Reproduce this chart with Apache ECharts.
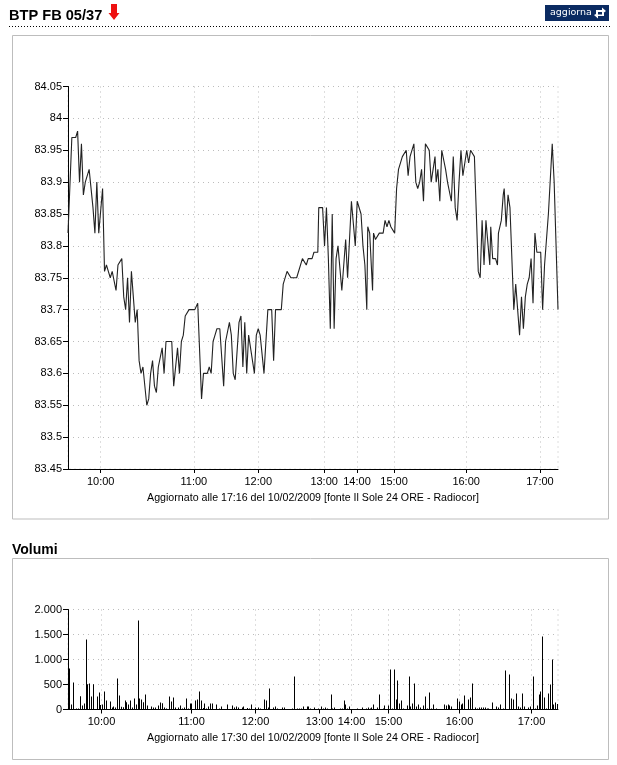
<!DOCTYPE html>
<html><head><meta charset="utf-8">
<script src="https://cdn.jsdelivr.net/npm/echarts@6/dist/echarts.min.js"></script>
<style>html,body{margin:0;padding:0;background:#fff}#c{width:617px;height:765px}</style>
</head><body><div id="c"></div>
<script>
const priceSlots = [0,2,4,5,6,7,8,9,10,11,12,13,14,15,16,18,19,20,21,22,23,24,25,26,27,28,29,30,31,32,33,34,35,36,37,38,39,40,41,42,43,44,45,46,47,48,49,50,51,54,55,57,58,59,60,61,62,63,66,
67.5,69.5,70.5,72.5,73.5,74.5,75.5,76.5,77.5,79,81,82,83,84,85,86,87,89,90,91,92,93,94,95,97,98,99,100,101,102,104,106,107,108,111,112,113,114,115,116,119,122,123,124,125,127,128,130,
130.5,132.5,133.5,134.5,135.5,136.5,137.5,138.5,139.5,140.5,141.5,142.5,143.5,144.5,145.5,147.5,148.5,149.5,150.5,151.5,152.5,153.5,154.5,155.5,156,157,158.5,159,160,161,162,164,165,166,167,168,169,170,171,172,173,174,175,176,177,178,179,180,181,182,183,184,185,186,187,188,189,190,
191,191.6,192.5,193.5,194.5,195.5,196.5,197.5,198.5,199.5,200.5,201.5,202.5,203.5,204.5,205.5,206.5,207.5,208.5,209.5,210.5,211.5,212.5,213.5,214.5,215.5,216.5,217.5,218.5,219.5,220,221,222.5,223.5,224,225.5,226.5,227,228,229,230,231,232,233,234,235,236,237,238,239,240,241,242,243,244,246,247,248,249,250,252,253,255];
const priceValues = [83.82,83.97,83.97,83.98,83.90,83.96,83.88,83.90,83.90,83.92,83.92,83.86,83.82,83.90,83.82,83.89,83.76,83.77,83.76,83.75,83.76,83.76,83.73,83.77,83.77,83.78,83.72,83.70,83.75,83.68,83.76,83.76,83.68,83.70,83.62,83.60,83.61,83.61,83.55,83.56,83.60,83.62,83.58,83.57,83.61,83.61,83.64,83.60,83.65,83.65,83.58,83.64,83.60,83.65,83.66,83.69,83.69,83.70,83.70,
83.71,83.56,83.60,83.60,83.61,83.60,83.65,83.66,83.67,83.67,83.58,83.65,83.65,83.68,83.66,83.60,83.59,83.68,83.69,83.61,83.68,83.60,83.66,83.66,83.60,83.66,83.67,83.66,83.66,83.60,83.70,83.70,83.62,83.70,83.70,83.74,83.74,83.76,83.76,83.75,83.75,83.78,83.78,83.77,83.78,83.78,83.79,83.79,
83.86,83.86,83.80,83.86,83.78,83.67,83.85,83.67,83.78,83.80,83.80,83.73,83.73,83.81,83.75,83.87,83.87,83.80,83.87,83.87,83.85,83.80,83.77,83.70,83.83,83.82,83.73,83.82,83.81,83.81,83.82,83.82,83.84,83.83,83.84,83.83,83.83,83.82,83.89,83.92,83.92,83.94,83.94,83.95,83.91,83.94,83.94,83.96,83.90,83.89,83.90,83.92,83.87,83.96,83.96,83.95,83.90,83.90,
83.94,83.90,83.92,83.87,83.95,83.95,83.92,83.90,83.90,83.87,83.94,83.86,83.84,83.90,83.95,83.91,83.93,83.95,83.93,83.95,83.95,83.94,83.85,83.76,83.75,83.84,83.77,83.84,83.84,83.77,83.83,83.78,83.78,83.77,83.82,83.84,83.88,83.89,83.83,83.88,83.86,83.86,83.70,83.74,83.70,83.66,83.72,83.67,83.72,83.74,83.75,83.78,83.71,83.82,83.79,83.79,83.70,83.77,83.77,83.85,83.96,83.90,83.70];
const priceTickSlots = [17,65.5,99,133.3,150.4,169.7,207.2,245.6];
const timeLabels = ['10:00','11:00','12:00','13:00','14:00','15:00','16:00','17:00'];

const volumeSlots = [3,5,7,10,12,14,16,18,20,21,23,25,27,31,33,34,36,38,40,44,46,47,49,51,53,55,57,59,60,62,64,66,68,70,72,73,75,77,79,81,85,87,89,92,94,96,98,100,103,105,107,109,112,114,116,118,120,122,124,125,129,131,133,135,137,138,140,142,144,146,150,153,155,161,166,168,170,172,176,177,181,183,185,189,192,194,198,200,202,203,207,209,211,216,218,226,228,231,233,235,237,241,242,244,248,
252,255,257,259,261,265,266,268,274,276,278,279,281,283,291,296,300,302,304,305,307,311,313,317,318,322,324,326,328,330,331,333,335,337,341,343,344,346,348,350,352,354,357,359,361,363,365,367,370,378,380,382,383,385,391,393,395,396,398,402,404,406,409,411,413,415,417,419,421,422,426,430,432,434,437,439,443,445,447,450,452,454,456,458,462,464,467,469,471,473,474,476,478,480,482,484,486,487,489,491];
const volumeValues = [820,100,540,20,20,265,80,120,1400,505,520,260,505,260,340,90,100,360,180,160,40,60,40,620,280,55,45,180,145,100,180,40,220,100,1780,220,200,145,300,80,60,40,40,80,140,125,40,20,260,160,240,40,40,80,20,40,220,20,120,120,180,200,360,180,30,120,20,60,120,120,100,20,60,100,80,40,60,40,40,60,30,20,100,40,40,20,200,180,40,420,40,60,20,40,40,20,660,20,20,20,60,60,60,20,40,
20,60,20,40,20,300,20,40,20,20,180,100,20,60,20,40,20,40,20,40,100,40,300,20,80,80,800,20,800,200,580,120,180,20,80,660,60,120,520,60,100,40,80,260,20,340,20,100,20,100,80,100,80,60,220,160,100,120,280,200,240,520,40,20,40,40,40,40,20,20,140,60,40,100,20,780,700,220,200,320,60,40,320,60,40,60,660,20,80,300,360,1460,240,20,320,500,1000,100,140,110];
const volumeTickSlots = [35,125,189,253,285,322,393,465];
const volumeLabels = {0:'0',500:'500',1000:'1.000',1500:'1.500',2000:'2.000'};

const headline = 'BTP FB 05/37';
const volumeTitle = 'Volumi';
const buttonText = 'aggiorna';
const note1 = 'Aggiornato alle 17:16 del 10/02/2009 [fonte Il Sole 24 ORE - Radiocor]';
const note2 = 'Aggiornato alle 17:30 del 10/02/2009 [fonte Il Sole 24 ORE - Radiocor]';

const FONT = '"Liberation Sans", Arial, sans-serif';
const dots = {color:'#bcbcbc', width:1, type:[1,4]};
const chart = echarts.init(document.getElementById('c'), null, {renderer:'canvas'});

function xAxis(idx, min, max, ticks){
  return {type:'value', gridIndex:idx, min, max,
    axisLine:{show:true, onZero:false, lineStyle:{color:'#000', width:1}},
    axisTick:{show:true, length:4, customValues:ticks, lineStyle:{color:'#000'}},
    axisLabel:{show:true, customValues:ticks, margin:7, color:'#000', fontSize:11, fontFamily:FONT,
      hideOverlap:false, formatter:v=>timeLabels[ticks.indexOf(v)]},
    splitLine:{show:true, lineStyle:dots}};
}
function yAxis(idx, opts){
  return Object.assign({type:'value', gridIndex:idx,
    axisLine:{show:true, lineStyle:{color:'#000', width:1}},
    axisTick:{show:true, length:5, lineStyle:{color:'#000'}},
    splitLine:{show:true, lineStyle:dots}}, opts);
}
const label = (text,x,y,extra)=>({type:'text', x, y, silent:true,
  style:Object.assign({text, fill:'#000', font:'11px '+FONT, textVerticalAlign:'middle'}, extra)});

chart.setOption({
  animation:false,
  backgroundColor:'#fff',
  grid:[
    {left:68, top:86.5, width:490, height:382.5, show:true, borderColor:'#bcbcbc', borderWidth:1, borderType:[1,4], backgroundColor:'transparent'},
    {left:68, top:609.5, width:490, height:100, show:true, borderColor:'#bcbcbc', borderWidth:1, borderType:[1,4], backgroundColor:'transparent'}
  ],
  xAxis:[xAxis(0,0,255,priceTickSlots), xAxis(1,1.5,491.5,volumeTickSlots)],
  yAxis:[
    yAxis(0,{min:83.45,max:84.05,interval:0.05,
      axisLabel:{margin:6,color:'#000',fontSize:11,fontFamily:FONT,formatter:v=>String(+v.toFixed(2))}}),
    yAxis(1,{min:0,max:2000,interval:500,
      axisLabel:{margin:6,color:'#000',fontSize:11,fontFamily:FONT,formatter:v=>volumeLabels[v]}})
  ],
  series:[
    {type:'line', xAxisIndex:0, yAxisIndex:0, showSymbol:false, symbol:'none',
     lineStyle:{color:'#222',width:1.1}, z:5,
     data:priceSlots.map((s,i)=>[s,priceValues[i]])},
    {type:'bar', xAxisIndex:1, yAxisIndex:1, barWidth:1, itemStyle:{color:'#000'}, z:5,
     data:volumeSlots.map((s,i)=>[s,volumeValues[i]])}
  ],
  graphic:[
    {type:'rect', shape:{x:12.5,y:35.5,width:596,height:483.5}, style:{fill:'none',stroke:'#bdbdbd',lineWidth:1}, silent:true, z:-10},
    {type:'rect', shape:{x:12.5,y:558.5,width:596,height:201}, style:{fill:'none',stroke:'#bdbdbd',lineWidth:1}, silent:true, z:-10},
    {type:'line', shape:{x1:9,y1:26.5,x2:610,y2:26.5}, style:{stroke:'#000',lineWidth:1,lineDash:[1,2]}, silent:true},
    label(headline,9,15.5,{font:'bold 14.6px '+FONT}),
    label(volumeTitle,12,550,{font:'bold 14px '+FONT}),
    label(note1,313,498.5,{textAlign:'center',font:'10.65px '+FONT}),
    label(note2,313,738.5,{textAlign:'center',font:'10.65px '+FONT}),
    {type:'polygon', shape:{points:[[111,4],[117,4],[117,13],[119.5,13],[114,20],[108.5,13],[111,13]]}, style:{fill:'#ee1111'}, silent:true},
    {type:'rect', shape:{x:545,y:5,width:64,height:16}, style:{fill:'#0b2b62'}, silent:true},
    label(buttonText,550,13,{fill:'#fff',font:'9.5px "DejaVu Sans", sans-serif'}),
    {type:'polygon', shape:{points:[[596,10],[602,10],[602,7.5],[606,11],[602,14],[602,12],[598,12],[598,14],[596,14]]}, style:{fill:'#fff'}, silent:true},
    {type:'polygon', shape:{points:[[604,16],[598,16],[598,18.5],[594,15],[598,13],[598,14.5],[602,14.5],[602,12.5],[604,12.5]]}, style:{fill:'#fff'}, silent:true}
  ]
});
</script></body></html>
